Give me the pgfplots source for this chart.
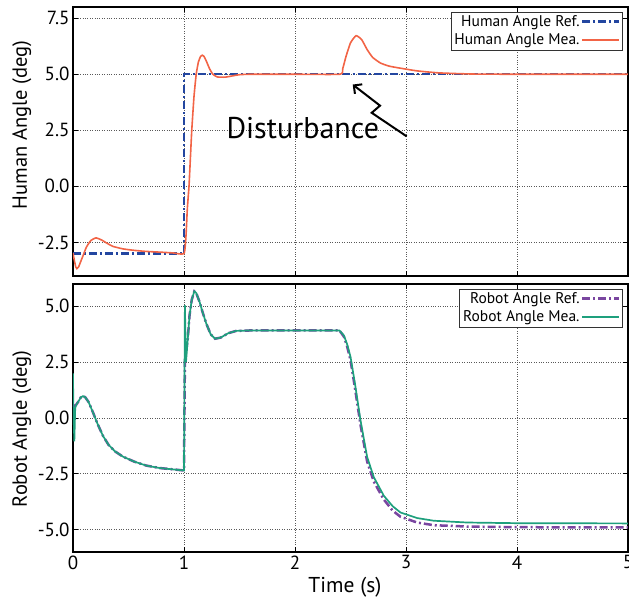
\documentclass[border=0pt]{standalone}
\usepackage{fontspec}
\setmainfont{PT Sans}
\usepackage{pgfplots}
\pgfplotsset{compat=1.18}
\usetikzlibrary{arrows.meta}
\definecolor{hblue}{RGB}{35,70,160}
\definecolor{horange}{RGB}{242,100,70}
\definecolor{rpurple}{RGB}{122,70,160}
\definecolor{rgreen}{RGB}{30,160,125}
\begin{document}
\begin{tikzpicture}
\pgfplotsset{
  myaxis/.style={
    scale only axis, width=555pt,
    xmin=0, xmax=5,
    xtick={0,1,2,3,4,5},
    grid=major,
    major grid style={black!65, dotted, line width=0.8pt},
    axis line style={line width=1.2pt},
    tick style={black, line width=0.8pt},
    major tick length=5pt,
    tick align=inside,
    xtick pos=both, ytick pos=both,
    /pgf/number format/assume math mode=true,
    tick label style={font=\fontsize{19}{22}\selectfont},
    label style={font=\fontsize{20.5}{23}\selectfont},
    yticklabel style={/pgf/number format/fixed, /pgf/number format/fixed zerofill, /pgf/number format/precision=1},
    legend plot pos=right,
    legend cell align=right,
    legend style={at={(0.99,0.983)}, anchor=north east, draw=black!80,
      font=\fontsize{15.5}{17}\selectfont, fill=white, row sep=3pt, inner sep=2pt,
      nodes={inner sep=1.5pt}},
    legend image code/.code={\draw[#1, line width=2.2pt] (0cm,0cm) -- (1.3cm,0cm);},
  }
}
\begin{axis}[myaxis, name=top, at={(0,0)}, anchor=north west, height=269pt,
  ymin=-4, ymax=8, ytick={-2.5,0,2.5,5,7.5}, xticklabels={},
  ylabel={Human Angle (deg)},
  ylabel style={at={(axis description cs:-0.092,0.561)}, anchor=center}]
\addplot[hblue, line width=2.2pt, dash pattern=on 8pt off 3pt on 2pt off 3pt] coordinates {
(0,-3) (1,-3) (1,5) (5,5)};
\addlegendentry{Human Angle Ref.}
\addplot[horange, line width=1.6pt, smooth, tension=0.3] coordinates {
(0,-2.97) (0.012,-3.3) (0.025,-3.6) (0.035,-3.67) (0.05,-3.6) (0.07,-3.35) (0.09,-3.1) (0.12,-2.72) (0.16,-2.42) (0.207,-2.3) (0.26,-2.4) (0.31,-2.55) (0.36,-2.68) (0.45,-2.79) (0.54,-2.85) (0.65,-2.9) (0.8,-2.94) (0.9,-2.97) (1.0,-3.0)
(1.018,-2.2) (1.03,-1.0) (1.045,0.0) (1.058,1.3) (1.07,2.5) (1.09,4.0) (1.11,5.0) (1.13,5.55) (1.15,5.8) (1.165,5.85) (1.18,5.8) (1.2,5.6) (1.23,5.25) (1.26,5.0) (1.3,4.88) (1.37,4.87) (1.44,4.93) (1.5,4.98) (1.6,5.0) (2.0,5.0) (2.405,5.0)
(2.43,5.25) (2.46,5.8) (2.5,6.4) (2.55,6.72) (2.6,6.55) (2.65,6.1) (2.7,5.75) (2.77,5.5) (2.85,5.36) (2.95,5.27) (3.1,5.15) (3.3,5.06) (3.6,5.01) (4.0,5.0) (5,5.0)};
\addlegendentry{Human Angle Mea.}
\node[font=\fontsize{30}{33}\selectfont, anchor=base] at (axis cs:2.07,2.13) {Disturbance};
\draw[line width=2pt, -{Straight Barb[length=6pt,width=12pt]}] (axis cs:3.006,2.23) -- (axis cs:2.691,3.28) -- (axis cs:2.766,3.6) -- (axis cs:2.52,4.54);
\end{axis}
\begin{axis}[myaxis, name=bottom, at={(0,-277pt)}, anchor=north west, height=268pt,
  ymin=-6, ymax=6, ytick={-5,-2.5,0,2.5,5},
  xlabel={Time (s)}, ylabel={Robot Angle (deg)},
  xlabel style={at={(axis description cs:0.49,-0.08)}, anchor=north, font=\fontsize{21.5}{24}\selectfont},
  ylabel style={at={(axis description cs:-0.092,0.459)}, anchor=center}]
\addplot[rpurple, line width=2.5pt, dash pattern=on 8pt off 3pt on 2pt off 3pt] coordinates {
(0,0.5) (0.03,0.6) (0.05,0.75) (0.07,0.92) (0.09,0.98) (0.11,0.93) (0.14,0.72) (0.18,0.25) (0.22,-0.25) (0.27,-0.8) (0.32,-1.2) (0.38,-1.5) (0.45,-1.73) (0.55,-1.95) (0.66,-2.13) (0.78,-2.24) (0.9,-2.3) (1.0,-2.35)
(1.008,2.5) (1.035,3.6) (1.05,4.6) (1.07,5.3) (1.093,5.67) (1.11,5.6) (1.14,5.2) (1.17,4.7) (1.2,4.24) (1.24,3.75) (1.28,3.55) (1.33,3.6) (1.4,3.8) (1.47,3.9) (1.6,3.92) (2.0,3.92) (2.4,3.92)
(2.44,3.65) (2.47,3.2) (2.5,2.6) (2.54,1.35) (2.59,-0.3) (2.65,-1.95) (2.71,-2.85) (2.8,-3.65) (2.88,-4.15) (2.95,-4.42) (3.1,-4.68) (3.25,-4.8) (3.55,-4.86) (4.0,-4.89) (5,-4.9)};
\addlegendentry{Robot Angle Ref.}
\addplot[rgreen, line width=1.7pt] coordinates {
(0,2.0) (0.003,0.5) (0.012,-1.05) (0.02,0.45) (0.03,0.6) (0.05,0.75) (0.07,0.92) (0.09,0.98) (0.11,0.93) (0.14,0.72) (0.18,0.25) (0.22,-0.25) (0.27,-0.8) (0.32,-1.2) (0.38,-1.5) (0.45,-1.73) (0.55,-1.95) (0.66,-2.13) (0.78,-2.24) (0.9,-2.3) (1.0,-2.35)
(1.008,5.05) (1.018,2.5) (1.035,3.6) (1.05,4.6) (1.07,5.3) (1.093,5.67) (1.11,5.6) (1.14,5.2) (1.17,4.7) (1.2,4.24) (1.24,3.75) (1.28,3.55) (1.33,3.6) (1.4,3.8) (1.47,3.9) (1.6,3.92) (2.0,3.92) (2.4,3.92)
(2.44,3.7) (2.47,3.3) (2.5,2.74) (2.54,1.55) (2.59,-0.1) (2.65,-1.75) (2.71,-2.65) (2.8,-3.48) (2.88,-3.95) (2.95,-4.23) (3.1,-4.48) (3.25,-4.6) (3.55,-4.68) (4.0,-4.71) (5.0,-4.72)};
\addlegendentry{Robot Angle Mea.}
\end{axis}
\pgfresetboundingbox
\path (-73pt,7pt) rectangle (556pt,-597pt);
\end{tikzpicture}
\end{document}
